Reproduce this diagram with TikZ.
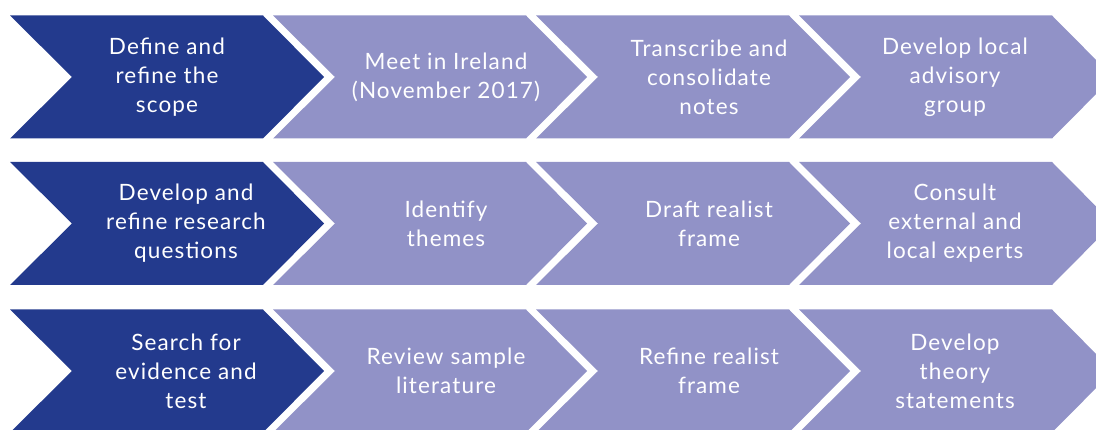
\documentclass[tikz,border=0pt]{standalone}
\usepackage{fontspec}
\setmainfont{Lato}[LetterSpace=5]
\definecolor{darkchev}{RGB}{35,58,141}
\definecolor{lightchev}{RGB}{145,146,199}
\begin{document}
\begin{tikzpicture}[x=1pt,y=1pt,
  label/.style={text=white,align=center,font=\fontsize{22.5}{29}\selectfont,inner sep=0pt}]
\useasboundingbox (0,0) rectangle (1096,429);
\clip (0,0) rectangle (1096,429);
% chevron macro: #1 colour, #2 left x, #3 top-right x, #4 centre y (tikz)
\newcommand{\chev}[4]{\fill[#1] (#2,#4+61.5) -- (#3,#4+61.5) -- (#3+61,#4) -- (#3,#4-61.5) -- (#2,#4-61.5) -- (#2+62,#4) -- cycle;}
\foreach \cy in {352,205.5,58}{
  \chev{darkchev}{10}{263}{\cy}
  \chev{lightchev}{273}{526}{\cy}
  \chev{lightchev}{536}{789}{\cy}
  \chev{lightchev}{799}{1052}{\cy}
}
% row 1
\node[label] (a1) at (167,352) {Define and\\refine the\\scope};
\node[label] (a2) at (446,352) {Meet in Ireland\\(November 2017)};
\node[label] (a3) at (709,352) {Transcribe and\\consolidate\\notes};
\node[label] (a4) at (955,352) {Develop local\\advisory\\group};
% row 2
\node[label] (b1) at (186,205.5) {Develop and\\refine research\\questions};
\node[label] (b2) at (446,205.5) {Identify\\themes};
\node[label] (b3) at (709,205.5) {Draft realist\\frame};
\node[label] (b4) at (955,205.5) {Consult\\external and\\local experts};
% row 3
\node[label] (c1) at (186,58) {Search for\\evidence and\\test};
\node[label] (c2) at (446,58) {Review sample\\literature};
\node[label] (c3) at (709,58) {Refine realist\\frame};
\node[label] (c4) at (955,58) {Develop\\theory\\statements};
\end{tikzpicture}
\end{document}
